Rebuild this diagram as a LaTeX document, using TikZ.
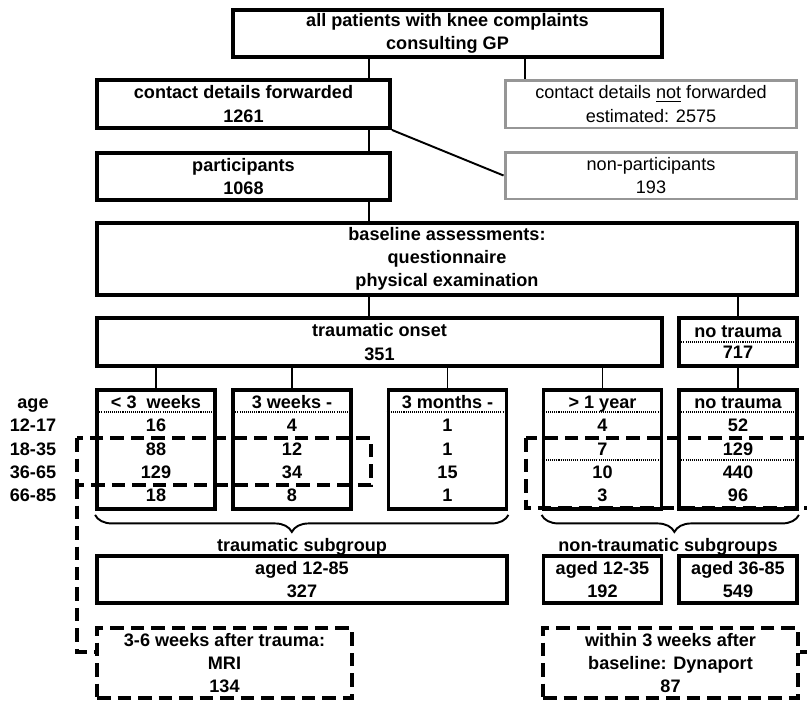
\documentclass[tikz,border=0pt]{standalone}
\usepackage{fontspec}
\setmainfont{Liberation Sans}
\usetikzlibrary{positioning, calc, decorations.pathreplacing}
\definecolor{boxgray}{RGB}{150, 150, 150}
\newcommand{\flowfont}{\fontsize{10.3}{13.2}\selectfont}

\begin{document}
\begin{tikzpicture}[x=0.02cm, y=-0.02cm,
  box/.style={draw, line width=2.2pt, inner sep=0pt, align=center, font=\flowfont\bfseries},
  graybox/.style={draw=boxgray, line width=1.7pt, inner sep=0pt, align=center, font=\flowfont},
  colbox/.style={box, minimum width=2.36cm, minimum height=2.38cm},
  dashbox/.style={draw, line width=2.3pt, dash pattern=on 0.27cm off 0.14cm},
  link/.style={line width=1.1pt},
  dotline/.style={line width=0.9pt, dash pattern=on 0.6pt off 0.6pt},
  lbl/.style={inner sep=0pt, text height=7.4pt, text depth=0pt, font=\flowfont\bfseries}]

  \useasboundingbox (0,0) rectangle (807,701);

  % Recruitment
  \node[box, minimum width=8.58cm, minimum height=0.94cm] (all) at (447.5,33.5) {all patients with knee complaints\\consulting GP};
  \node[box, minimum width=5.86cm, minimum height=0.96cm] (fwd) at (243.5,104) {contact details forwarded\\1261};
  \node[graybox, minimum width=5.84cm, minimum height=0.96cm] (notfwd) at (651,104) {contact details \underline{not} forwarded\\estimated: 2575};
  \node[box, minimum width=5.86cm, minimum height=0.94cm] (part) at (243.5,176.5) {participants\\1068};
  \node[graybox, minimum width=5.84cm, minimum height=0.94cm] (nonpart) at (651,175.5) {non-participants\\193};

  \coordinate (spine) at (369,0);
  \coordinate (side) at (525,0);
  \draw[link] (all.south -| spine) -- (fwd.north -| spine);
  \draw[link] (all.south -| side) -- (notfwd.north -| side);
  \draw[link] (fwd.south -| spine) -- (part.north -| spine);
  \draw[link] (fwd.south east) -- (nonpart.west);

  % Baseline
  \node[box, minimum width=14cm, minimum height=1.44cm] (base) at (447,259) {baseline assessments:\\questionnaire\\physical examination};
  \draw[link] (part.south -| spine) -- (base.north -| spine);

  % Onset
  \node[box, minimum width=11.3cm, minimum height=0.96cm] (onset) at (379.5,342) {traumatic onset\\351};
  \node[box, minimum width=2.36cm, minimum height=0.96cm] (none) at (738,342) {no trauma\\[-1pt]717};
  \draw[dotline] (none.west) -- (none.east);
  \draw[link] (base.south -| spine) -- (onset.north -| spine);
  \draw[link] (base.south -| none.north) -- (none.north);

  % Age table
  \foreach \n/\y/\age in {ah/402/age, aa/425/12-17, ab/449/18-35, ac/472/36-65, ad/495/66-85}
    \node[lbl] (\n) at (33,\y) {\age};

  \foreach \n/\x/\head/\ra/\rb/\rc/\rd in {
      lt3/156/{< 3\ \ weeks}/16/88/129/18,
      w3/292/{3 weeks -}/4/12/34/8,
      m3/447.5/{3 months -}/1/1/15/1,
      y1/602.5/{> 1 year}/4/7/10/3,
      nt/738/{no trauma}/52/129/440/96} {
    \node[colbox] (\n) at (\x,449.5) {};
    \node[lbl] (\n-h) at (\x,402) {\head};
    \draw[dotline] (\n.west |- 0,412) -- (\n.east |- 0,412);
    \node[lbl] (\n-a) at (\x,425) {\ra};
    \node[lbl] (\n-b) at (\x,449) {\rb};
    \node[lbl] (\n-c) at (\x,472) {\rc};
    \node[lbl] (\n-d) at (\x,495) {\rd};
  }
  \draw[dotline] (y1.west |- 0,460) -- (y1.east |- 0,460);
  \draw[dotline] (nt.west |- 0,460) -- (nt.east |- 0,460);

  \foreach \n in {lt3, w3, m3, y1}
    \draw[link] (onset.south -| \n.north) -- (\n.north);
  \draw[link] (none.south) -- (nt.north);

  % Subgroups
  \draw[link, decorate, decoration={brace, mirror, amplitude=0.34cm, aspect=0.476}]
    ([yshift=-0.08cm]lt3.south west) -- ([yshift=-0.08cm]m3.south east);
  \draw[link, decorate, decoration={brace, mirror, amplitude=0.34cm, aspect=0.516}]
    ([yshift=-0.08cm]y1.south west) -- ([yshift=-0.08cm]nt.south east);
  \node[lbl] (trlbl) at (302,545) {traumatic subgroup};
  \node[lbl] (ntlbl) at (668,545) {non-traumatic subgroups};

  \node[box, minimum width=8.2cm, minimum height=0.94cm] (trsub) at (302,579.5) {aged 12-85\\327};
  \node[box, minimum width=2.36cm, minimum height=0.94cm] (young) at (602.5,579.5) {aged 12-35\\192};
  \node[box, minimum width=2.36cm, minimum height=0.94cm] (old) at (738,579.5) {aged 36-85\\549};

  % Follow-up
  \node[box, dashbox, minimum width=5.1cm, minimum height=1.4cm] (mri) at (224.5,663) {3-6 weeks after trauma:\\MRI\\134};
  \node[box, dashbox, minimum width=5.1cm, minimum height=1.4cm] (dyna) at (670.5,663) {within 3 weeks after\\baseline: Dynaport\\87};

  \coordinate (lsel) at (77,438);
  \coordinate (rsel) at (526,438);
  \draw[dashbox] (lsel) rectangle (371,485);
  \draw[dashbox] (lsel |- 0,485) |- ([yshift=0.22cm]mri.west);
  \draw[dashbox] (rsel) rectangle (810,508);
  \draw[dashbox] (810,508) |- ([yshift=0.22cm]dyna.east);
\end{tikzpicture}
\end{document}
